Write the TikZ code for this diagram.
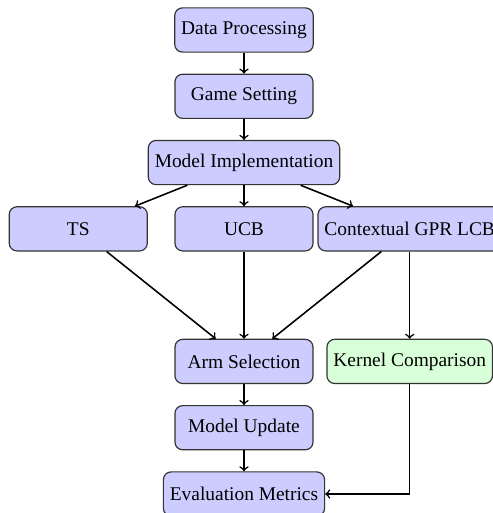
\documentclass[tikz,border=0pt]{standalone}
\usepackage{fontspec}
\setmainfont{Liberation Serif}
\begin{document}
\begin{tikzpicture}[
	stage/.style={draw=black!80, semithick, rounded corners, fill=blue!20, minimum width=2.5cm, minimum height=0.8cm},
	sidestage/.style={stage, fill=green!15},
	flow/.style={->, thick}
	]
	
	\useasboundingbox (-4.417,0.543) rectangle (4.49,-8.744);
	
	% Main pipeline
	\node[stage] at (0,0)    (data) {Data Processing};
	\node[stage] at (0,-1.2) (game) {Game Setting};
	\node[stage] at (0,-2.4) (model) {Model Implementation};
	
	% Bandit algorithms
	\node[stage] at (-3,-3.6) (ts)  {TS};
	\node[stage] at (0,-3.6)  (ucb) {UCB};
	\node[stage] at (3,-3.6)  (gpr) {Contextual GPR LCB};
	
	% Selection and evaluation
	\node[stage] at (0,-6)   (arm)    {Arm Selection};
	\node[sidestage] at (3,-6) (kernel) {Kernel Comparison};
	\node[stage] at (0,-7.2) (update) {Model Update};
	\node[stage] at (0,-8.4) (eval)   {Evaluation Metrics};
	
	% Arrows between stages
	\draw[flow] (data) -- (game);
	\draw[flow] (game) -- (model);
	\draw[flow] (model) -- (ts);
	\draw[flow] (model) -- (ucb);
	\draw[flow] (model) -- (gpr);
	\draw[flow] (ts) -- (arm);
	\draw[flow] (ucb) -- (arm);
	\draw[flow] (gpr) -- (arm);
	\draw[flow] (gpr) -- (kernel);
	\draw[flow] (arm) -- (update);
	\draw[flow] (update) -- (eval);
	\draw[flow] (kernel) |- (eval);
	
\end{tikzpicture}
\end{document}
